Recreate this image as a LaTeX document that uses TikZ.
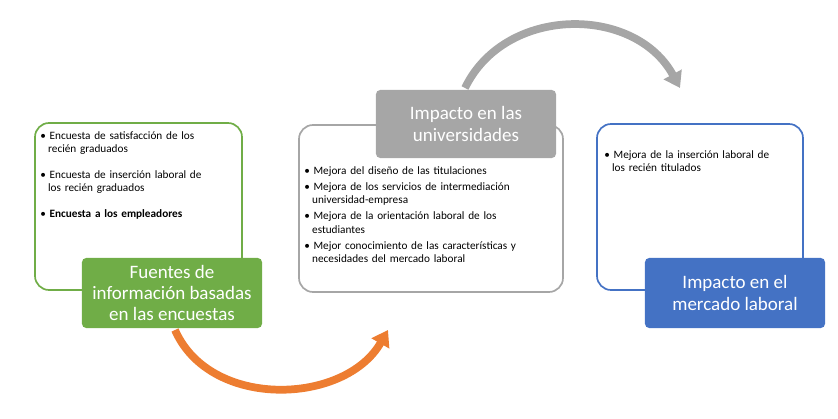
\documentclass[tikz,border=0pt]{standalone}
\usepackage{fontspec}
\setmainfont{Carlito}
\usetikzlibrary{arrows.meta}
\definecolor{verde}{RGB}{112,173,71}
\definecolor{gris}{RGB}{166,166,166}
\definecolor{azul}{RGB}{68,114,196}
\definecolor{naranja}{RGB}{237,125,49}
\tikzset{
  panel/.style={draw, line width=1.2pt, rounded corners=10pt},
  titulo/.style={rounded corners=3pt, text=white, align=center, font=\fontsize{13.5}{15}\selectfont},
  lista/.style={anchor=north west, align=left, text width=#1, font=\fontsize{8}{9.5}\selectfont, inner sep=0pt},
  flecha/.style={line width=5.5pt, -{Triangle[length=11pt,width=14pt]}}
}
\begin{document}
\begin{tikzpicture}[x=0.025cm, y=-0.025cm]
        \useasboundingbox (0,0) rectangle (838,419);
        % paneles
        \draw [panel, verde] (35,123) rectangle (242,290);
        \draw [panel, gris]  (299,125) rectangle (563,292);
        \draw [panel, azul]  (597,124) rectangle (803,290);
        % flechas curvas
        \coordinate (g1) at (465,88);
        \coordinate (g2) at (680,88);
        \draw [flecha, gris] (g1) .. controls (505,5) and (635,5) .. (g2);
        \coordinate (n1) at (175,330);
        \coordinate (n2) at (388,330);
        \draw [flecha, naranja] (n1) .. controls (210,410) and (345,405) .. (n2);
        % titulos
        \node [titulo, fill=verde, minimum width=4.5cm, minimum height=1.75cm] (fuentes) at (172,293)
          {Fuentes de\\información basadas\\en las encuestas};
        \node [titulo, fill=gris, minimum width=4.5cm, minimum height=1.7cm] (univ) at (466,124)
          {Impacto en las\\universidades};
        \node [titulo, fill=azul, minimum width=4.5cm, minimum height=1.75cm] (mercado) at (735,293)
          {Impacto en el\\mercado laboral};
        % listas
        \node [lista=4.8cm] (l1) at (40,131) {%
          \textbullet\ Encuesta de satisfacción de los\\\hspace*{0.7em}recién graduados\\[9pt]
          \textbullet\ Encuesta de inserción laboral de\\\hspace*{0.7em}los recién graduados\\[9pt]
          \textbullet\ \textbf{Encuesta a los empleadores}};
        \node [lista=6.4cm] (l2) at (304,166) {%
          \textbullet\ Mejora del diseño de las titulaciones\\[2pt]
          \textbullet\ Mejora de los servicios de intermediación\\\hspace*{0.7em}universidad-empresa\\[2pt]
          \textbullet\ Mejora de la orientación laboral de los\\\hspace*{0.7em}estudiantes\\[2pt]
          \textbullet\ Mejor conocimiento de las características y\\\hspace*{0.7em}necesidades del mercado laboral};
        \node [lista=4.8cm] (l3) at (604,150) {%
          \textbullet\ Mejora de la inserción laboral de\\\hspace*{0.7em}los recién titulados};
\end{tikzpicture}
\end{document}
